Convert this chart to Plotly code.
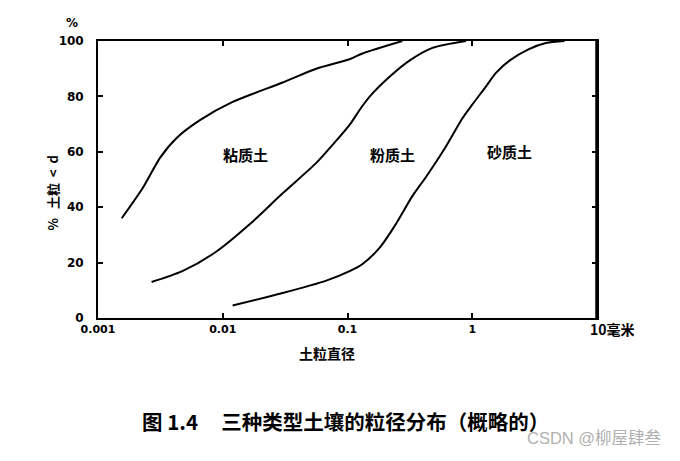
import math
import plotly.graph_objects as go

# Particle diameter (mm) and cumulative percentage finer than d
clay_d = [0.00155, 0.00229, 0.00316, 0.00427, 0.00661, 0.0120, 0.0302, 0.0562, 0.105, 0.132, 0.275]
clay_pct = [36, 47, 58, 65, 71.5, 78, 85, 90, 93.5, 95.5, 100]

silt_d = [0.00269, 0.00479, 0.00891, 0.0166, 0.0302, 0.0562, 0.0759, 0.105, 0.129, 0.158, 0.229, 0.316, 0.479, 0.891]
silt_pct = [13, 17, 24, 34, 45, 56, 62.5, 70, 76, 81, 88, 93, 97.5, 100]

sand_d = [0.0120, 0.0302, 0.0676, 0.105, 0.132, 0.182, 0.245, 0.331, 0.427, 0.617, 0.832, 1.0, 1.26, 1.55, 2.0, 2.82, 3.89, 5.50]
sand_pct = [4.5, 9, 13.5, 17, 19.5, 25.5, 34, 44, 51, 62, 72, 77, 83, 88.5, 93, 97, 99.3, 100]

series_names = ["粘质土", "粉质土", "砂质土"]
label_d = [0.0151, 0.229, 1.98]
label_pct = [59, 59, 60]

x_tickvals = [0.001, 0.01, 0.1, 1, 10]
x_ticktext = ["0.001", "0.01", "0.1", "1", ""]
y_tickvals = [0, 20, 40, 60, 80, 100]

CJK = "Noto Sans CJK SC"

fig = go.Figure()
for name, xs, ys in [(series_names[0], clay_d, clay_pct),
                     (series_names[1], silt_d, silt_pct),
                     (series_names[2], sand_d, sand_pct)]:
    fig.add_trace(go.Scatter(
        x=xs, y=ys, mode="lines", name=name,
        line=dict(color="black", width=2, shape="spline", smoothing=0.8),
        showlegend=False, hoverinfo="skip"))

# curve labels (annotation x on a log axis is given as log10 of the value)
for name, xd, yp in zip(series_names, label_d, label_pct):
    fig.add_annotation(x=math.log10(xd), y=yp, xref="x", yref="y", text=name, showarrow=False,
                       xanchor="center", yanchor="middle",
                       font=dict(family=CJK, size=15, color="black", weight="bold"))

# "10毫米" label at the end of x axis
fig.add_annotation(x=math.log10(x_tickvals[-1]), y=0, xref="x", yref="y", text="10毫米", showarrow=False,
                   xanchor="left", yanchor="top", xshift=-9, yshift=1,
                   font=dict(family=CJK, size=14, color="black", weight="bold"))

# x axis title
fig.add_annotation(x=0.459, y=-0.126, xref="paper", yref="paper", text="土粒直径", showarrow=False,
                   xanchor="center", yanchor="middle",
                   font=dict(family=CJK, size=14, color="black", weight="bold"))

# y axis title (rotated)
fig.add_annotation(x=-0.092, y=0.45, xref="paper", yref="paper", text="%   土粒  <  d", showarrow=False,
                   textangle=-90, xanchor="center", yanchor="middle",
                   font=dict(family=CJK, size=13, color="black", weight="bold"))

# percent sign above y axis
fig.add_annotation(x=-0.052, y=1.065, xref="paper", yref="paper", text="%", showarrow=False,
                   xanchor="center", yanchor="middle",
                   font=dict(family="DejaVu Sans", size=12, color="black", weight="bold"))

# caption
fig.add_annotation(x=0.496, y=-0.372, xref="paper", yref="paper",
                   text="图 1.4     三种类型土壤的粒径分布（概略的）",
                   showarrow=False, xanchor="center", yanchor="middle",
                   font=dict(family=CJK, size=20.5, color="black", weight="bold"))

# watermark
fig.add_annotation(x=1.134, y=-0.433, xref="paper", yref="paper", text="CSDN @柳屋肆叁",
                   showarrow=False, xanchor="right", yanchor="middle",
                   font=dict(family="Liberation Sans, Noto Sans CJK SC", size=16.5, color="#b0b0b0"))

# thicker right border
fig.add_shape(type="line", xref="x domain", yref="y domain", x0=1, x1=1, y0=0, y1=1,
              line=dict(color="black", width=3.5))

fig.update_xaxes(type="log", range=[-3, 1], tickvals=x_tickvals, ticktext=x_ticktext,
                 showgrid=False, zeroline=False, showline=True, linecolor="black", linewidth=1.8,
                 mirror="ticks", ticks="inside", ticklen=5, tickcolor="black", tickwidth=1.5,
                 tickfont=dict(family="DejaVu Sans", size=11, color="black", weight="bold"))
fig.update_yaxes(range=[0, 100], tickvals=y_tickvals,
                 showgrid=False, zeroline=False, showline=True, linecolor="black", linewidth=1.8,
                 mirror="ticks", ticks="inside", ticklen=5, tickcolor="black", tickwidth=1.5,
                 ticklabelstandoff=10,
                 tickfont=dict(family="DejaVu Sans", size=12, color="black", weight="bold"))

fig.update_layout(width=680, height=461,
                  margin=dict(l=90, r=91, t=33, b=151),
                  plot_bgcolor="white", paper_bgcolor="white")

fig.write_html("out.html")
